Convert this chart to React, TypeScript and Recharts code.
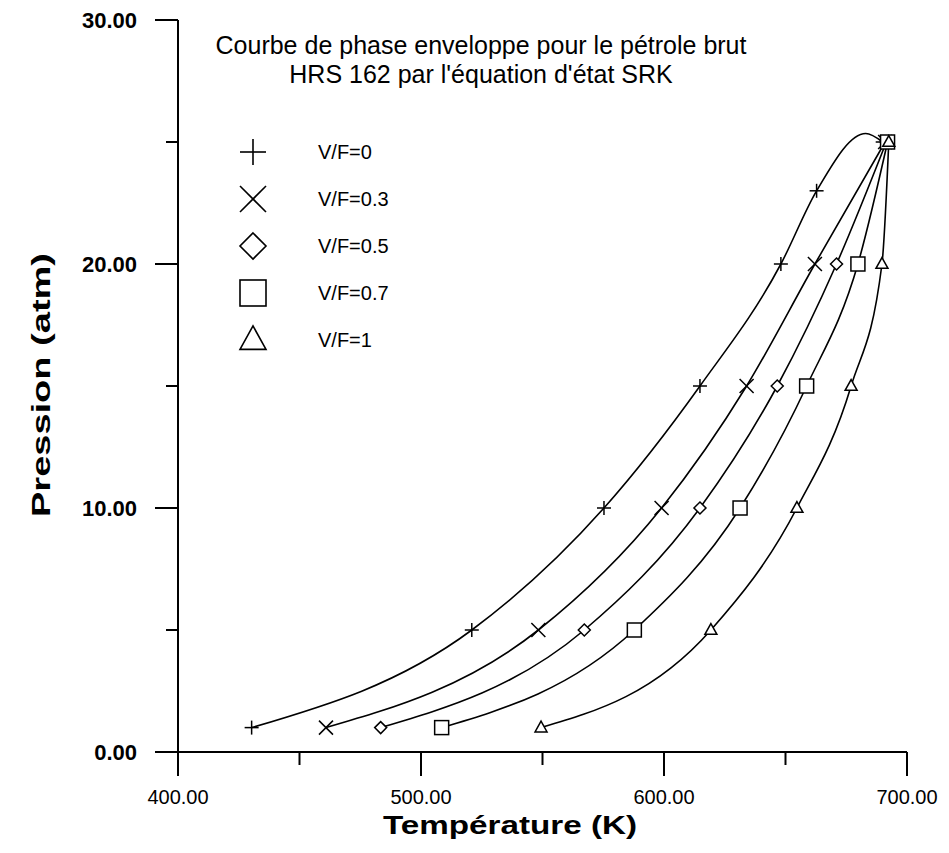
import React from "react";
import { LineChart, Line, XAxis, YAxis } from "recharts";

// ---- data (Température K, Pression atm) ----
const vf0 = [
  { T: 430.3, P: 1 },
  { T: 520.9, P: 5 },
  { T: 575.3, P: 10 },
  { T: 614.8, P: 15 },
  { T: 648.1, P: 20 },
  { T: 662.8, P: 23 },
  { T: 683.0, P: 25.35 },
  { T: 690.0, P: 25 },
];
const vf0Unmarked = [683.0];
const vf03 = [
  { T: 460.9, P: 1 },
  { T: 548.3, P: 5 },
  { T: 599.0, P: 10 },
  { T: 634.0, P: 15 },
  { T: 662.1, P: 20 },
  { T: 691.0, P: 25 },
];
const vf05 = [
  { T: 483.4, P: 1 },
  { T: 567.2, P: 5 },
  { T: 614.8, P: 10 },
  { T: 646.6, P: 15 },
  { T: 671.0, P: 20 },
  { T: 691.5, P: 25 },
];
const vf07 = [
  { T: 508.5, P: 1 },
  { T: 587.8, P: 5 },
  { T: 631.3, P: 10 },
  { T: 658.7, P: 15 },
  { T: 679.8, P: 20 },
  { T: 692.0, P: 25 },
];
const vf1 = [
  { T: 549.4, P: 1 },
  { T: 619.3, P: 5 },
  { T: 654.7, P: 10 },
  { T: 677.0, P: 15 },
  { T: 689.7, P: 20 },
  { T: 692.5, P: 25 },
];

const xTicks = [400, 450, 500, 550, 600, 650, 700];
const xMajor = [400, 500, 600, 700];
const yTicks = [0, 5, 10, 15, 20, 25, 30];
const yMajor = [0, 10, 20, 30];
const legendLabels = ["V/F=0", "V/F=0.3", "V/F=0.5", "V/F=0.7", "V/F=1"];
const titleLines = [
  "Courbe de phase enveloppe pour le pétrole brut",
  "HRS 162 par l'équation d'état SRK",
];
const xTitle = "Température (K)";
const yTitle = "Pression (atm)";

const FONT = "'Liberation Sans', Arial, sans-serif";
const INK = "#000";

type Shape = "plus" | "cross" | "diamond" | "square" | "triangle";

function Marker({ shape, cx, cy, r, sw }: { shape: Shape; cx: number; cy: number; r: number; sw: number }) {
  const common = { stroke: INK, strokeWidth: sw, fill: "#fff" };
  if (shape === "plus") {
    return (
      <g>
        <line x1={cx - r} y1={cy} x2={cx + r} y2={cy} stroke={INK} strokeWidth={sw} />
        <line x1={cx} y1={cy - r} x2={cx} y2={cy + r} stroke={INK} strokeWidth={sw} />
      </g>
    );
  }
  if (shape === "cross") {
    return (
      <g>
        <line x1={cx - r} y1={cy - r} x2={cx + r} y2={cy + r} stroke={INK} strokeWidth={sw} />
        <line x1={cx - r} y1={cy + r} x2={cx + r} y2={cy - r} stroke={INK} strokeWidth={sw} />
      </g>
    );
  }
  if (shape === "diamond") {
    return <polygon points={`${cx},${cy - r} ${cx + r},${cy} ${cx},${cy + r} ${cx - r},${cy}`} {...common} />;
  }
  if (shape === "square") {
    return <rect x={cx - r} y={cy - r} width={2 * r} height={2 * r} {...common} />;
  }
  const h = r * 1.8;
  return (
    <polygon
      points={`${cx},${cy - h * 0.6} ${cx + r},${cy + h * 0.4} ${cx - r},${cy + h * 0.4}`}
      {...common}
    />
  );
}

const makeDot = (shape: Shape, r: number, skip: number[] = []) => (props: any) => {
  const { cx, cy, payload, index } = props;
  if (cx == null || cy == null || skip.includes(payload.T)) return <g key={`d${shape}${index}`} />;
  return (
    <g key={`d${shape}${index}`}>
      <Marker shape={shape} cx={cx} cy={cy} r={r} sw={1.5} />
    </g>
  );
};

const YTick = (props: any) => {
  const { x, y, payload } = props;
  const major = yMajor.includes(payload.value);
  const len = major ? 23 : 12;
  return (
    <g>
      <line x1={x - len} y1={y} x2={x} y2={y} stroke={INK} strokeWidth={2} />
      {major && (
        <text x={x - 41} y={y} dy={7.5} textAnchor="end" fontFamily={FONT} fontWeight="bold" fontSize={22} fill={INK}>
          {payload.value.toFixed(2)}
        </text>
      )}
    </g>
  );
};

const XTick = (props: any) => {
  const { x, y, payload } = props;
  const major = xMajor.includes(payload.value);
  const len = major ? 24 : 13;
  return (
    <g>
      <line x1={x} y1={y} x2={x} y2={y + len} stroke={INK} strokeWidth={2} />
      {major && (
        <text x={x} y={y + 52} textAnchor="middle" fontFamily={FONT} fontSize={20} fill={INK}>
          {payload.value.toFixed(2)}
        </text>
      )}
    </g>
  );
};

const series: { data: { T: number; P: number }[]; shape: Shape; r: number; skip?: number[] }[] = [
  { data: vf0, shape: "plus", r: 7, skip: vf0Unmarked },
  { data: vf03, shape: "cross", r: 7 },
  { data: vf05, shape: "diamond", r: 6 },
  { data: vf07, shape: "square", r: 7 },
  { data: vf1, shape: "triangle", r: 6 },
];
const legendShapes: Shape[] = ["plus", "cross", "diamond", "square", "triangle"];

export default function App() {
  const W = 941;
  const H = 845;
  return (
    <div style={{ position: "relative", width: W, height: H, background: "#fff" }}>
      <LineChart
        width={W}
        height={H}
        margin={{ top: 12, right: 42, bottom: 0, left: 0 }}
      >
        <XAxis
          type="number"
          dataKey="T"
          domain={[400, 700]}
          ticks={xTicks}
          interval={0}
          allowDataOverflow
          height={101}
          tickSize={0}
          tickMargin={0}
          tickLine={false}
          axisLine={{ stroke: INK, strokeWidth: 2 }}
          tick={<XTick />}
        />
        <YAxis
          type="number"
          dataKey="P"
          domain={[0, 30]}
          ticks={yTicks}
          interval={0}
          allowDataOverflow
          width={170}
          tickSize={0}
          tickMargin={0}
          tickLine={false}
          axisLine={{ stroke: INK, strokeWidth: 2 }}
          tick={<YTick />}
        />
        {series.map((s, i) => (
          <Line
            key={i}
            data={s.data}
            dataKey="P"
            type="monotone"
            stroke={INK}
            strokeWidth={1.6}
            dot={makeDot(s.shape, s.r, s.skip)}
            activeDot={false}
            isAnimationActive={false}
          />
        ))}
      </LineChart>
      <svg
        width={W}
        height={H}
        style={{ position: "absolute", left: 0, top: 0, pointerEvents: "none" }}
      >
        {titleLines.map((t, i) => (
          <text key={t} x={473} y={46 + i * 29} textAnchor="middle" fontFamily={FONT} fontSize={25} fill={INK}>
            {t}
          </text>
        ))}
        {legendLabels.map((lab, i) => (
          <g key={lab}>
            <Marker shape={legendShapes[i]} cx={245} cy={144 + i * 47} r={13} sw={1.6} />
            <text x={310} y={144 + i * 47 + 7} fontFamily={FONT} fontSize={20} fill={INK}>
              {lab}
            </text>
          </g>
        ))}
        <text
          x={502}
          y={826}
          textAnchor="middle"
          fontFamily={FONT}
          fontWeight="bold"
          fontSize={26}
          fill={INK}
          textLength={254}
          lengthAdjust="spacingAndGlyphs"
        >
          {xTitle}
        </text>
        <text
          transform="translate(42,377) rotate(-90)"
          textAnchor="middle"
          fontFamily={FONT}
          fontWeight="bold"
          fontSize={26}
          fill={INK}
          textLength={264}
          lengthAdjust="spacingAndGlyphs"
        >
          {yTitle}
        </text>
      </svg>
    </div>
  );
}
